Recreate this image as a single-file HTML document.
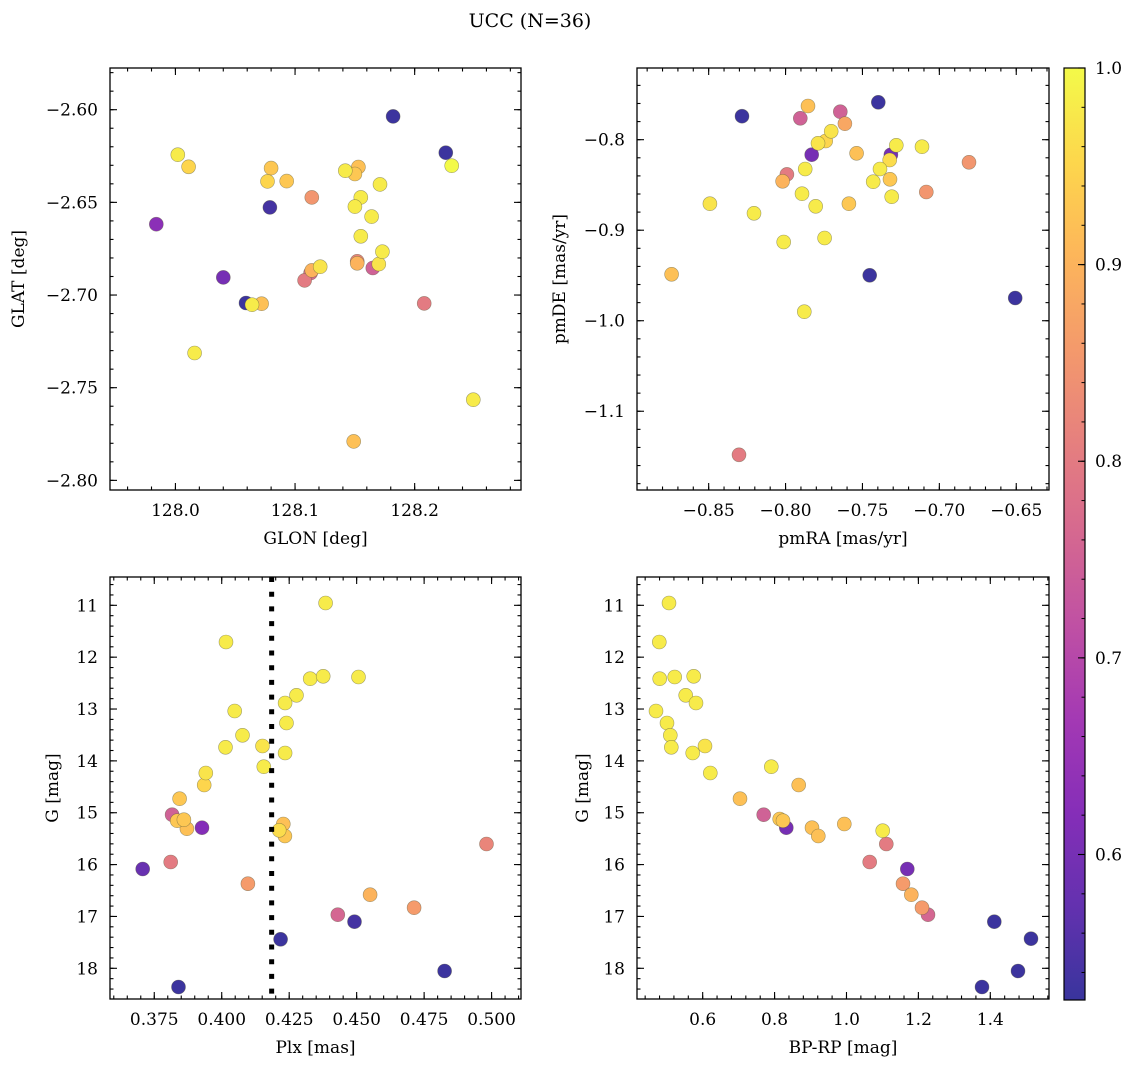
<!DOCTYPE html>
<html><head><meta charset="utf-8">
<style>
html,body{margin:0;padding:0;background:#fff;}
svg{display:block;font-family:"DejaVu Serif","Liberation Serif",serif;}
</style></head>
<body>
<svg id="fig" width="1136" height="1067" viewBox="0 0 1136 1067" xmlns="http://www.w3.org/2000/svg">
<text x="530" y="27" font-size="19" text-anchor="middle">UCC (N=36)</text>
</svg>
<script>
// ---- data: top-left (GLON / GLAT)
const glon = [128.182,128.226,128.231,128.002,128.011,128.080,128.077,128.093,128.114,128.079,127.984,128.142,128.153,128.150,128.171,128.155,128.150,128.164,128.155,128.173,128.152,128.152,128.165,128.170,128.121,128.114,128.113,128.108,128.040,128.059,128.064,128.072,128.208,128.016,128.249,128.149];
const glat = [-2.6036,-2.6232,-2.6302,-2.6243,-2.6308,-2.6315,-2.6387,-2.6385,-2.6473,-2.6527,-2.6618,-2.6329,-2.6309,-2.6347,-2.6403,-2.6473,-2.6523,-2.6577,-2.6683,-2.6766,-2.6818,-2.6829,-2.6854,-2.6833,-2.6847,-2.6867,-2.6881,-2.6921,-2.6905,-2.7043,-2.7052,-2.7047,-2.7045,-2.7313,-2.7565,-2.779];
const probTL = [0.53,0.53,1.0,0.98,0.95,0.93,0.95,0.93,0.85,0.54,0.63,0.98,0.92,0.93,0.98,0.98,0.98,0.98,0.98,0.98,0.82,0.9,0.75,0.97,0.97,0.9,0.77,0.8,0.6,0.53,0.98,0.92,0.8,0.98,0.98,0.92];
// ---- data: top-right (pmRA / pmDE)
const pmra = [-0.8283,-0.7397,-0.7854,-0.7904,-0.7644,-0.7614,-0.7703,-0.7739,-0.7789,-0.7830,-0.7538,-0.7280,-0.7315,-0.7323,-0.7113,-0.6807,-0.7872,-0.7991,-0.8019,-0.7386,-0.7430,-0.7321,-0.7085,-0.7310,-0.7893,-0.7804,-0.7588,-0.8492,-0.8205,-0.8012,-0.7746,-0.8741,-0.7453,-0.6507,-0.7878,-0.8303];
const pmde = [-0.7741,-0.7587,-0.7628,-0.7764,-0.7691,-0.7823,-0.7907,-0.8014,-0.804,-0.8166,-0.815,-0.8062,-0.8166,-0.8224,-0.8077,-0.825,-0.8324,-0.8383,-0.846,-0.8324,-0.8464,-0.8438,-0.8578,-0.863,-0.8597,-0.8736,-0.8707,-0.8707,-0.8813,-0.913,-0.9086,-0.9487,-0.9498,-0.9749,-0.99,-1.1481];
const probTR = [0.53,0.53,0.92,0.75,0.75,0.88,0.97,0.95,0.97,0.6,0.92,0.98,0.6,0.96,0.98,0.85,0.98,0.8,0.9,0.98,0.98,0.93,0.85,0.98,0.98,0.98,0.93,0.97,0.98,0.98,0.98,0.92,0.53,0.53,0.98,0.8];
// ---- data: bottom-left (Plx / G)
const plx = [0.4385,0.4016,0.4328,0.4376,0.4507,0.4277,0.4235,0.4048,0.4240,0.4077,0.4014,0.4151,0.4235,0.4156,0.3941,0.3935,0.3844,0.3816,0.3835,0.3860,0.3871,0.3927,0.4228,0.4213,0.4234,0.4981,0.3707,0.3811,0.4097,0.4550,0.4713,0.4430,0.4492,0.4218,0.4826,0.3840];
const gmagBL = [10.956,11.708,12.415,12.369,12.383,12.735,12.884,13.038,13.27,13.507,13.738,13.713,13.848,14.112,14.234,14.465,14.729,15.038,15.153,15.134,15.308,15.288,15.217,15.339,15.449,15.603,16.085,15.95,16.368,16.58,16.831,16.966,17.101,17.44,18.052,18.36];
const probBL = [0.98,0.98,0.98,0.98,0.98,0.98,0.98,0.98,0.98,0.98,0.98,0.97,0.98,0.98,0.97,0.95,0.93,0.75,0.93,0.93,0.92,0.62,0.92,0.96,0.93,0.82,0.58,0.8,0.86,0.9,0.86,0.76,0.54,0.53,0.53,0.53];
const plxCut = [0.4185];
// ---- data: bottom-right (BP-RP / G)
const bprp = [0.5063,0.4793,0.4804,0.5221,0.5750,0.5527,0.5814,0.4701,0.5007,0.5099,0.5127,0.6064,0.5722,0.7908,0.6211,0.8670,0.7038,0.7697,0.8142,0.8234,0.8326,0.9040,0.9216,0.9939,1.1007,1.1107,1.0645,1.1691,1.1572,1.1802,1.2100,1.2267,1.4111,1.5132,1.4771,1.3769];
const gmagBR = [10.956,11.708,12.415,12.383,12.369,12.735,12.884,13.038,13.27,13.507,13.738,13.713,13.848,14.112,14.234,14.465,14.729,15.038,15.121,15.153,15.288,15.288,15.449,15.217,15.346,15.603,15.95,16.085,16.368,16.58,16.831,16.966,17.101,17.43,18.052,18.36];
const probBR = [0.98,0.98,0.98,0.98,0.98,0.98,0.98,0.98,0.98,0.98,0.98,0.97,0.98,0.98,0.98,0.92,0.92,0.75,0.93,0.93,0.6,0.92,0.92,0.92,0.98,0.8,0.8,0.6,0.86,0.9,0.86,0.76,0.53,0.53,0.53,0.53];
// ---- tick labels
const ticksTLx = [128.0,128.1,128.2];
const ticksTLy = [-2.60,-2.65,-2.70,-2.75,-2.80];
const ticksTRx = [-0.85,-0.80,-0.75,-0.70,-0.65];
const ticksTRy = [-0.8,-0.9,-1.0,-1.1];
const ticksBLx = [0.375,0.400,0.425,0.450,0.475,0.500];
const ticksGy = [11,12,13,14,15,16,17,18];
const ticksBRx = [0.6,0.8,1.0,1.2,1.4];
const ticksCbar = [0.6,0.7,0.8,0.9,1.0];

const NS = "http://www.w3.org/2000/svg";
const svg = document.getElementById('fig');
const FS = 17;
function mk(tag, attrs, parent){const e=document.createElementNS(NS,tag);for(const k in attrs)e.setAttribute(k,attrs[k]);(parent||svg).appendChild(e);return e;}

const VMIN=0.526, VMAX=1.0, ALPHA=0.82;
const plasma=[[13,8,135],[65,4,157],[106,0,168],[143,13,164],[177,42,144],[204,71,120],[225,100,98],[242,132,75],[252,166,54],[252,206,37],[240,249,33]];
function cmap(v){let t=(v-VMIN)/(VMAX-VMIN);t=Math.max(0,Math.min(1,t));const f=t*10,i=Math.min(9,Math.floor(f)),r=f-i;
 const c=plasma[i].map((a,k)=>a+(plasma[i+1][k]-a)*r).map(a=>Math.round(a*ALPHA+255*(1-ALPHA)));return `rgb(${c[0]},${c[1]},${c[2]})`;}

function panel(o){
 const g=mk('g',{});
 
 
 const sx=v=>o.x0+(v-o.xmin)/(o.xmax-o.xmin)*(o.x1-o.x0);
 const sy=v=>o.y0+(v-o.ymax)/(o.ymin-o.ymax)*(o.y1-o.y0);
 const syInv=v=>o.y0+(v-o.ymin)/(o.ymax-o.ymin)*(o.y1-o.y0);
 const Y=o.invert?syInv:sy;
 const idx=o.px.map((_,i)=>i).sort((a,b)=>o.pp[a]-o.pp[b]);
 const pg=mk('g',{},g);
 idx.forEach(i=>{
  const c=mk('circle',{cx:sx(o.px[i]).toFixed(1),cy:Y(o.py[i]).toFixed(1),r:7,fill:cmap(o.pp[i]),stroke:'rgba(90,90,60,0.55)','stroke-width':0.6},pg);
  
  
 });
 if(o.vline){o.vline.forEach(v=>{const l=mk('line',{x1:sx(v),x2:sx(v),y1:o.y0,y2:o.y1,stroke:'#000','stroke-width':5,'stroke-dasharray':'5 9.7'},g);
  
  });}
 const fr=mk('rect',{x:o.x0,y:o.y0,width:o.x1-o.x0,height:o.y1-o.y0,fill:'none',stroke:'#000','stroke-width':1.3},g);
 
 
 const tk=mk('g',{stroke:'#000','stroke-width':1.1},g);
 const eps=1e-9;
 for(let v=Math.ceil(o.xmin/o.xminor-eps)*o.xminor; v<=o.xmax+eps; v+=o.xminor){const x=sx(v);
  mk('line',{x1:x,x2:x,y1:o.y1,y2:o.y1-3.5},tk);mk('line',{x1:x,x2:x,y1:o.y0,y2:o.y0+3.5},tk);}
 for(let v=Math.ceil(o.ymin/o.yminor-eps)*o.yminor; v<=o.ymax+eps; v+=o.yminor){const y=Y(v);
  mk('line',{x1:o.x0,x2:o.x0+3.5,y1:y,y2:y},tk);mk('line',{x1:o.x1,x2:o.x1-3.5,y1:y,y2:y},tk);}
 o.xt.forEach(v=>{const x=sx(v);mk('line',{x1:x,x2:x,y1:o.y1,y2:o.y1-7},tk);mk('line',{x1:x,x2:x,y1:o.y0,y2:o.y0+7},tk);
  const t=mk('text',{x:x,y:o.y1+26,'font-size':FS,'text-anchor':'middle'},g);t.textContent=v.toFixed(o.xd).replace('-','\u2212');
  
  });
 o.yt.forEach(v=>{const y=Y(v);mk('line',{x1:o.x0,x2:o.x0+7,y1:y,y2:y},tk);mk('line',{x1:o.x1,x2:o.x1-7,y1:y,y2:y},tk);
  const t=mk('text',{x:o.x0-12,y:y+6,'font-size':FS,'text-anchor':'end'},g);t.textContent=v.toFixed(o.yd).replace('-','\u2212');
  
  });
 const xl=mk('text',{x:(o.x0+o.x1)/2,y:o.y1+54,'font-size':FS,'text-anchor':'middle'},g);xl.textContent=o.xlabel;
 
 
 const cy=(o.y0+o.y1)/2;
 const yl=mk('text',{x:o.ylx,y:cy,'font-size':FS,'text-anchor':'middle',transform:`rotate(-90 ${o.ylx} ${cy})`},g);yl.textContent=o.ylabel;
 
 
}

panel({name:'glon-glat-panel',x0:110,x1:521,y0:68,y1:490,xmin:127.9453,xmax:128.2889,ymin:-2.8052,ymax:-2.5775,
 px:glon,py:glat,pp:probTL,xt:ticksTLx,yt:ticksTLy,xd:1,yd:2,xminor:0.02,yminor:0.01,xlabel:'GLON [deg]',ylabel:'GLAT [deg]',ylx:24});
panel({name:'pm-panel',x0:637,x1:1049,y0:68,y1:490,xmin:-0.8966,xmax:-0.6287,ymin:-1.187,ymax:-0.7208,
 px:pmra,py:pmde,pp:probTR,xt:ticksTRx,yt:ticksTRy,xd:2,yd:1,xminor:0.01,yminor:0.02,xlabel:'pmRA [mas/yr]',ylabel:'pmDE [mas/yr]',ylx:565});
panel({name:'plx-g-panel',x0:110,x1:521,y0:577,y1:999,xmin:0.3586,xmax:0.5109,ymin:10.454,ymax:18.592,invert:true,vline:plxCut,
 px:plx,py:gmagBL,pp:probBL,xt:ticksBLx,yt:ticksGy,xd:3,yd:0,xminor:0.005,yminor:0.2,xlabel:'Plx [mas]',ylabel:'G [mag]',ylx:58});
panel({name:'cmd-panel',x0:637,x1:1049,y0:577,y1:999,xmin:0.4173,xmax:1.5633,ymin:10.454,ymax:18.592,invert:true,
 px:bprp,py:gmagBR,pp:probBR,xt:ticksBRx,yt:ticksGy,xd:1,yd:0,xminor:0.04,yminor:0.2,xlabel:'BP-RP [mag]',ylabel:'G [mag]',ylx:588});

(function(){
 const x0=1064,x1=1085,y0=68,y1=1000;
 const g=mk('g',{});
 
 
 const defs=mk('defs',{},g);
 const lg=mk('linearGradient',{id:'cg',x1:0,y1:1,x2:0,y2:0},defs);
 for(let i=0;i<=20;i++){const v=VMIN+(VMAX-VMIN)*i/20;mk('stop',{offset:(i/20),'stop-color':cmap(v)},lg);}
 mk('rect',{x:x0,y:y0,width:x1-x0,height:y1-y0,fill:'url(#cg)',stroke:'#000','stroke-width':1.2},g);
 const sy=v=>y1-(v-VMIN)/(VMAX-VMIN)*(y1-y0);
 for(let v=0.54; v<=1.0001; v+=0.02){mk('line',{x1:x1,x2:x1-3.5,y1:sy(v),y2:sy(v),stroke:'#000','stroke-width':1},g);}
 ticksCbar.forEach(v=>{const y=sy(v);mk('line',{x1:x1,x2:x1-7,y1:y,y2:y,stroke:'#000','stroke-width':1.1},g);
  const t=mk('text',{x:x1+10,y:y+6,'font-size':FS},g);t.textContent=v.toFixed(1);
  
  });
})();
</script>
</body></html>
